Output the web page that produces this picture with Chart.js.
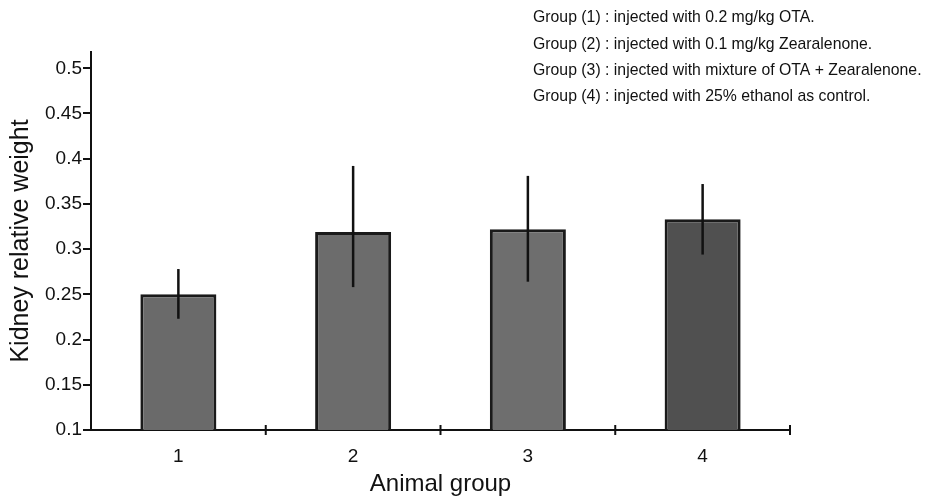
<!DOCTYPE html>
<html>
<head>
<meta charset="utf-8">
<script src="https://cdn.jsdelivr.net/npm/chart.js@4/dist/chart.umd.min.js"></script>
<style>
  html, body { margin: 0; padding: 0; background: #fff; }
  #wrap { width: 929px; height: 496px; position: relative; }
</style>
</head>
<body>
<div id="wrap"><canvas id="c" width="929" height="496"></canvas></div>
<script>
const categories = ["1", "2", "3", "4"];
const meanValues = [0.250, 0.319, 0.322, 0.333];
const errorUpper = [0.278, 0.392, 0.381, 0.372];
const errorLower = [0.223, 0.258, 0.264, 0.294];
const yTickValues = [0.1, 0.15, 0.2, 0.25, 0.3, 0.35, 0.4, 0.45, 0.5];
const noteLines = [
  "Group (1) : injected with 0.2 mg/kg OTA.",
  "Group (2) : injected with 0.1 mg/kg Zearalenone.",
  "Group (3) : injected with mixture of OTA + Zearalenone.",
  "Group (4) : injected with 25% ethanol as control."
];

const errorBarPlugin = {
  id: 'errorBars',
  afterDatasetsDraw(chart) {
    const ctx = chart.ctx;
    const meta = chart.getDatasetMeta(0);
    const ys = chart.scales.y;
    ctx.save();
    ctx.strokeStyle = '#111';
    ctx.lineWidth = 2.5;
    meta.data.forEach((bar, i) => {
      ctx.beginPath();
      ctx.moveTo(bar.x, ys.getPixelForValue(errorLower[i]));
      ctx.lineTo(bar.x, ys.getPixelForValue(errorUpper[i]));
      ctx.stroke();
    });
    ctx.restore();
  }
};

const notePlugin = {
  id: 'notes',
  afterDraw(chart) {
    const ctx = chart.ctx;
    ctx.save();
    ctx.fillStyle = '#111';
    ctx.font = '17px "Liberation Sans", Arial, sans-serif';
    ctx.textBaseline = 'middle';
    ctx.textAlign = 'left';
    const ys = [17, 44, 70, 96];
    noteLines.forEach((t, i) => {
      ctx.save();
      ctx.translate(533, ys[i]);
      ctx.scale(0.93, 1);
      ctx.fillText(t, 0, 0);
      ctx.restore();
    });
    ctx.restore();
  }
};

const xTickCross = {
  id: 'xTickCross',
  afterDraw(chart) {
    const ctx = chart.ctx;
    const xs = chart.scales.x;
    const bottom = chart.chartArea.bottom;
    const step = xs.getPixelForValue(1) - xs.getPixelForValue(0);
    const start = xs.getPixelForValue(0) - step / 2;
    ctx.save();
    ctx.strokeStyle = '#111';
    ctx.lineWidth = 2;
    for (let i = 1; i <= categories.length; i++) {
      const x = start + i * step;
      ctx.beginPath();
      ctx.moveTo(x, bottom - 5);
      ctx.lineTo(x, bottom + 5);
      ctx.stroke();
    }
    ctx.restore();
  }
};

const barFills = ['#6a6a6a', '#6c6c6c', '#6e6e6e', '#505050'];

new Chart(document.getElementById('c'), {
  type: 'bar',
  data: {
    labels: categories,
    datasets: [{
      data: meanValues,
      backgroundColor: barFills,
      borderColor: '#1a1a1a',
      borderWidth: 3,
      barPercentage: 0.435,
      categoryPercentage: 1.0
    }]
  },
  options: {
    responsive: false,
    animation: false,
    devicePixelRatio: 1,
    layout: { padding: { left: 0, top: 52, right: 139, bottom: 0 } },
    plugins: { legend: { display: false }, tooltip: { enabled: false } },
    scales: {
      x: {
        offset: true,
        grid: { display: false, drawOnChartArea: false },
        border: { display: true, color: '#111', width: 2 },
        ticks: {
          color: '#111',
          font: { family: 'Liberation Sans, Arial, sans-serif', size: 19 },
          padding: 7
        },
        title: {
          display: true,
          text: 'Animal group',
          color: '#111',
          font: { family: 'Liberation Sans, Arial, sans-serif', size: 24 },
          padding: { top: 6, bottom: -3 }
        },
        afterFit(scale) { scale.height = 66; }
      },
      y: {
        min: 0.1,
        max: 0.518,
        grid: { drawOnChartArea: false, tickLength: 8, color: '#111', lineWidth: 2 },
        border: { display: true, color: '#111', width: 2 },
        afterBuildTicks(scale) { scale.ticks = yTickValues.map(v => ({ value: v })); },
        ticks: {
          color: '#111',
          font: { family: 'Liberation Sans, Arial, sans-serif', size: 19 },
          padding: 1,
          callback: (v) => String(v)
        },
        title: {
          display: true,
          text: 'Kidney relative weight',
          color: '#111',
          font: { family: 'Liberation Sans, Arial, sans-serif', size: 25 },
          padding: { top: 6, bottom: 0 }
        },
        afterFit(scale) { scale.width = 91; }
      }
    }
  },
  plugins: [errorBarPlugin, notePlugin, xTickCross]
});
</script>
</body>
</html>
